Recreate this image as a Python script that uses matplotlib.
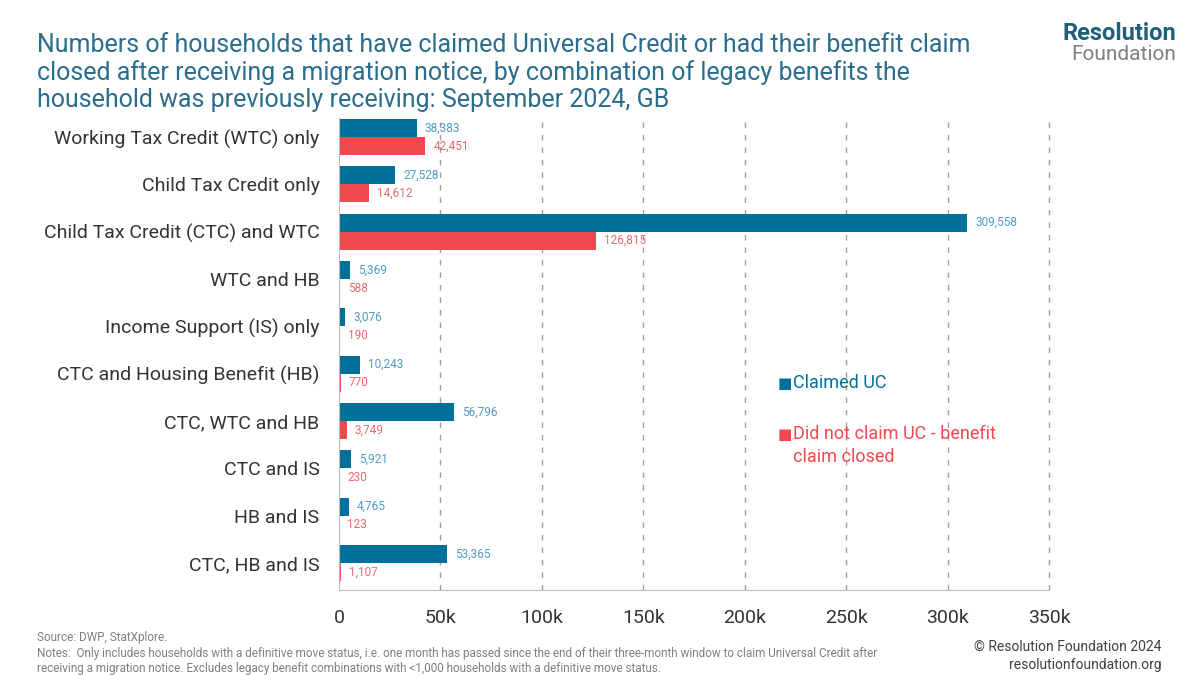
import matplotlib
matplotlib.use("Agg")
from matplotlib import pyplot as plt
from matplotlib import font_manager

categories = [
    "Working Tax Credit (WTC) only",
    "Child Tax Credit only",
    "Child Tax Credit (CTC) and WTC",
    "WTC and HB",
    "Income Support (IS) only",
    "CTC and Housing Benefit (HB)",
    "CTC, WTC and HB",
    "CTC and IS",
    "HB and IS",
    "CTC, HB and IS",
]
claimed_uc = [38383, 27528, 309558, 5369, 3076, 10243, 56796, 5921, 4765, 53365]
claim_closed = [42451, 14612, 126815, 588, 190, 770, 3749, 230, 123, 1107]
x_ticks = [0, 50000, 100000, 150000, 200000, 250000, 300000, 350000]
x_tick_labels = ["0", "50k", "100k", "150k", "200k", "250k", "300k", "350k"]

BLUE = "#00709b"
RED = "#f0484e"
BLUE_TXT = "#4d9cc4"
RED_TXT = "#ea6a6e"
TITLE_C = "#2a6d8c"
GREY_TXT = "#333333"

installed = {f.name for f in font_manager.fontManager.ttflist}
narrow = "Liberation Sans Narrow" if "Liberation Sans Narrow" in installed else "Roboto"
plt.rcParams["font.family"] = ["Roboto", "DejaVu Sans"]

fig = plt.figure(figsize=(12, 6.75), dpi=100)
ax = fig.add_axes([0.2825, 0.126, 0.5917, 0.699])

h = 0.38
ys = list(range(len(categories)))
ax.barh([y - h / 2 for y in ys], claimed_uc, height=h, color=BLUE, zorder=3)
ax.barh([y + h / 2 for y in ys], claim_closed, height=h, color=RED, zorder=3)

for y, v in zip(ys, claimed_uc):
    ax.text(v + 4000, y - h / 2, f"{v:,}", color=BLUE_TXT, fontsize=8.5,
            va="center", ha="left", zorder=4)
for y, v in zip(ys, claim_closed):
    ax.text(v + 4000, y + h / 2, f"{v:,}", color=RED_TXT, fontsize=8.5,
            va="center", ha="left", zorder=4)

ax.set_xlim(0, 350000)
ax.set_ylim(9.57, -0.4)
ax.set_yticks(ys)
ax.set_yticklabels(categories, fontsize=14, color=GREY_TXT)
ax.set_xticks(x_ticks)
ax.set_xticklabels(x_tick_labels, fontsize=14, color=GREY_TXT, family=narrow)
ax.tick_params(axis="y", length=0, pad=14)
ax.tick_params(axis="x", length=0, pad=14)

for t in x_ticks[1:]:
    ax.axvline(t, color="#a0a0a0", linestyle=(0, (4, 5)), linewidth=1,
               zorder=1, clip_on=False)

for s in ["top", "right"]:
    ax.spines[s].set_visible(False)
ax.spines["left"].set_color("#bbbbbb")
ax.spines["bottom"].set_color("#bbbbbb")
ax.spines["left"].set_zorder(5)

# legend
fig.text(0.648, 1 - 384 / 675, "■", color=BLUE, fontsize=11, va="center")
fig.text(0.661, 1 - 383 / 675, "Claimed UC", color=BLUE, fontsize=13, va="center")
fig.text(0.648, 1 - 435 / 675, "■", color=RED, fontsize=11, va="center")
fig.text(0.661, 1 - 434 / 675, "Did not claim UC - benefit", color=RED, fontsize=13, va="center")
fig.text(0.661, 1 - 457 / 675, "claim closed", color=RED, fontsize=13, va="center")

# title
title = ("Numbers of households that have claimed Universal Credit or had their benefit claim\n"
         "closed after receiving a migration notice, by combination of legacy benefits the\n"
         "household was previously receiving: September 2024, GB")
fig.text(0.031, 1 - 33 / 675, title, color=TITLE_C, fontsize=18, family=narrow,
         va="top", ha="left", linespacing=1.15)

# logo
fig.text(0.98, 1 - 33 / 675, "Resolution", color="#1f5f7a", fontsize=17,
         fontweight="bold", family=narrow, ha="right", va="center")
fig.text(0.98, 1 - 55 / 675, "Foundation", color="#808080", fontsize=15,
         family=narrow, ha="right", va="center")

# footer
fig.text(0.031, 1 - 637 / 675, "Source: DWP, StatXplore.", color="#808080",
         fontsize=8.5, family=narrow, va="center")
fig.text(0.031, 1 - 661 / 675,
         "Notes:  Only includes households with a definitive move status, i.e. one month has passed since the end of their three-month window to claim Universal Credit after\n"
         "receiving a migration notice. Excludes legacy benefit combinations with <1,000 households with a definitive move status.",
         color="#808080", fontsize=8.5, family=narrow, va="center", linespacing=1.15)
fig.text(0.968, 1 - 647 / 675, "© Resolution Foundation 2024", color="#404040",
         fontsize=10, family=narrow, ha="right", va="center")
fig.text(0.968, 1 - 665 / 675, "resolutionfoundation.org", color="#404040",
         fontsize=10, family=narrow, ha="right", va="center")

fig.savefig("out.png", dpi=100)
